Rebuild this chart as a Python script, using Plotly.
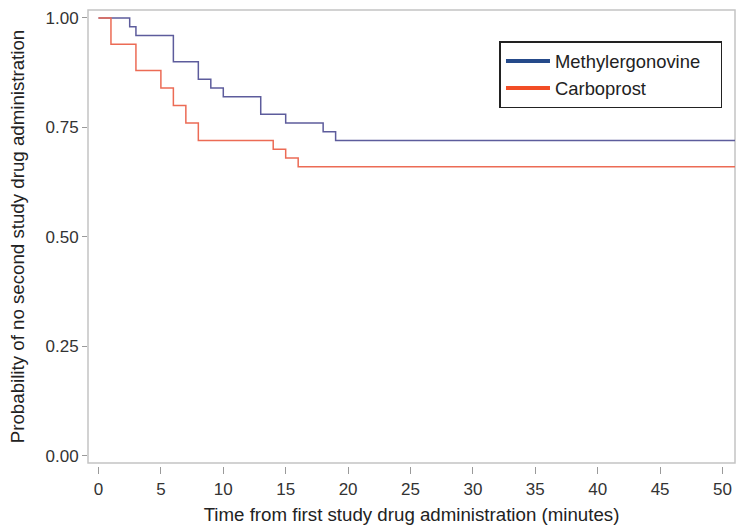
import plotly.graph_objects as go

# Kaplan-Meier step data (time in minutes, survival probability)
methyl_time = [0, 2.5, 3, 6, 8, 9, 10, 13, 15, 18, 19, 51]
methyl_prob = [1.00, 0.98, 0.96, 0.90, 0.86, 0.84, 0.82, 0.78, 0.76, 0.74, 0.72, 0.72]

carbo_time = [0, 1, 3, 5, 6, 7, 8, 14, 15, 16, 51]
carbo_prob = [1.00, 0.94, 0.88, 0.84, 0.80, 0.76, 0.72, 0.70, 0.68, 0.66, 0.66]

x_ticks = [0, 5, 10, 15, 20, 25, 30, 35, 40, 45, 50]
y_ticks = [0.00, 0.25, 0.50, 0.75, 1.00]
y_tick_labels = ["0.00", "0.25", "0.50", "0.75", "1.00"]

series_names = ["Methylergonovine", "Carboprost"]
line_colors = ["#5D5C9C", "#EC6B55"]
legend_colors = ["#254A8A", "#F24D26"]

fig = go.Figure()
fig.add_trace(go.Scatter(x=methyl_time, y=methyl_prob, mode="lines", line_shape="hv",
                         line=dict(color=line_colors[0], width=1.5), showlegend=False))
fig.add_trace(go.Scatter(x=carbo_time, y=carbo_prob, mode="lines", line_shape="hv",
                         line=dict(color=line_colors[1], width=1.5), showlegend=False))
pad = "\u00a0" * 3
for name, col in zip(series_names, legend_colors):
    fig.add_trace(go.Scatter(x=[None], y=[None], mode="lines", name=name + pad,
                             line=dict(color=col, width=4)))

H = 525
bottom_px = 466
plot_bottom_px = 463
paper_h = bottom_px - 10
ydom0 = (bottom_px - plot_bottom_px) / paper_h

fig.update_layout(
    width=736, height=525,
    margin=dict(l=88, r=1, t=10, b=H - bottom_px),
    paper_bgcolor="white", plot_bgcolor="white",
    font=dict(family="Liberation Sans, Arial, sans-serif", size=17, color="#222222"),
    xaxis=dict(range=[-0.84, 51.0], tickvals=x_ticks, ticks="outside", ticklen=7,
               tickcolor="#9a9a9a", showline=False, showgrid=False, zeroline=False,
               anchor="free", position=0, automargin=False, ticklabelstandoff=1,
               tickfont=dict(size=17, color="#333333"),
               title=dict(text="Time from first study drug administration (minutes)",
                          font=dict(size=18.7, color="#222222"), standoff=9)),
    yaxis=dict(range=[-0.016, 1.018], domain=[ydom0, 1], tickvals=y_ticks,
               ticktext=y_tick_labels, ticks="outside", ticklen=5, tickcolor="#9a9a9a",
               showline=False, showgrid=False, zeroline=False, automargin=False,
               tickfont=dict(size=17, color="#333333"),
               title=dict(text="Probability of no second study drug administration",
                          font=dict(size=18.7, color="#222222"), standoff=15)),
    legend=dict(x=0.636, y=0.932, xanchor="left", yanchor="top",
                bordercolor="#222222", borderwidth=1.5, bgcolor="white",
                font=dict(size=18.4, color="#222222"), tracegroupgap=0,
                itemwidth=44),
    shapes=[dict(type="rect", xref="paper", yref="paper", x0=0, x1=1, y0=ydom0, y1=1,
                 line=dict(color="#c4c4c4", width=1.5), fillcolor="rgba(0,0,0,0)",
                 layer="below")],
)

fig.write_html("out.html", config={"displayModeBar": False},
               post_script="document.body.style.margin='0px';")
